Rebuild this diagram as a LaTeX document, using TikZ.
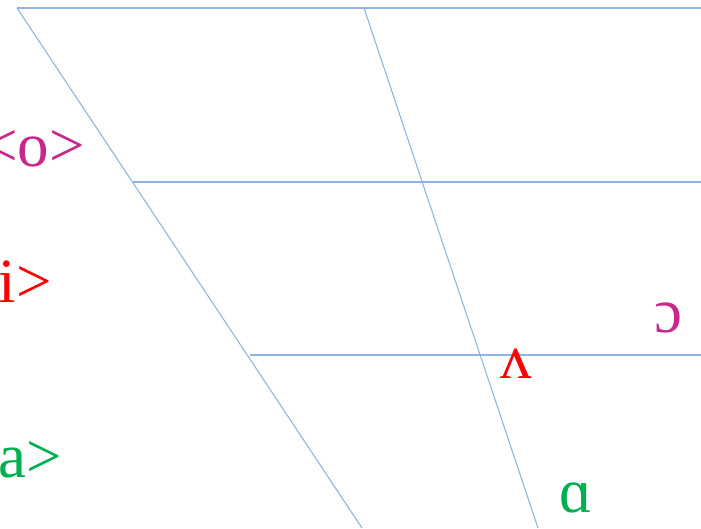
\documentclass[tikz,border=0pt]{standalone}
\usepackage{fontspec}
\setmainfont{Liberation Serif}
\definecolor{gridblue}{HTML}{8FB4E3}
\definecolor{vmag}{HTML}{C8288C}
\definecolor{vred}{HTML}{FF0000}
\definecolor{vgreen}{HTML}{00B050}
\tikzset{
  gridline/.style={draw=gridblue, line width=1.1pt},
  vowel/.style={inner sep=0pt, font=\fontsize{63}{69}\selectfont}
}
\begin{document}
\begin{tikzpicture}[x=1pt,y=-1pt]
\useasboundingbox (0,0) rectangle (701,528);
\coordinate (tl) at (17,8);
\coordinate (tm) at (364,8);
\coordinate (tr) at (701,8);
\coordinate (bl) at (362,528);
\coordinate (bm) at (538,528);
\coordinate (m1l) at (133,182);
\coordinate (m1r) at (701,182);
\coordinate (m2l) at (250,355);
\coordinate (m2r) at (701,355);
\draw[gridline] (tl) -- (tr);
\draw[gridline] (tl) -- (bl);
\draw[gridline] (tm) -- (bm);
\draw[gridline] (m1l) -- (m1r);
\draw[gridline] (m2l) -- (m2r);
\node[vowel, text=vmag, anchor=base east] (o) at (85,166) {<o>};
\node[vowel, text=vred, anchor=base east] (i) at (52,302) {i>};
\node[vowel, text=vgreen, anchor=base east] (a) at (62,477) {a>};
\node[vowel, text=vred, anchor=base west] (wedge) at (500,378) {ʌ};
\node[vowel, text=vmag, anchor=base west] (oo) at (654,332) {ɔ};
\node[vowel, text=vgreen, anchor=base west] (aa) at (559,512) {ɑ};
\end{tikzpicture}
\end{document}
